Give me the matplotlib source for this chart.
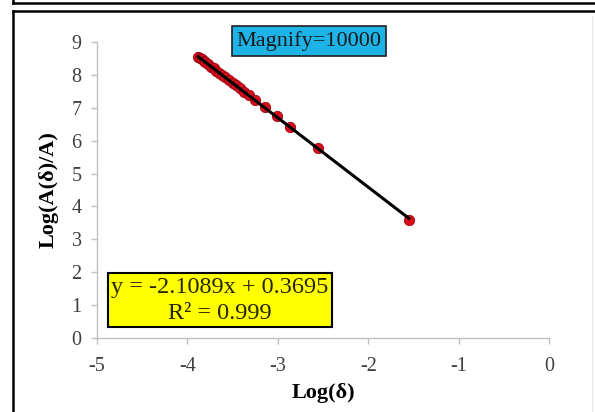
import numpy as np
import matplotlib.pyplot as plt
from matplotlib.lines import Line2D

#~~~~~~~~~~~~~~~~~~~~~~~~~~~~~~~~~~~~~~~~~~~~~~~~~~

# DATA

log_delta = [-3.88, -3.86, -3.84, -3.82, -3.80, -3.77, -3.74, -3.71, -3.68,
             -3.65, -3.62, -3.58, -3.54, -3.50, -3.46, -3.42, -3.37, -3.32,
             -3.25, -3.14, -3.01, -2.86, -2.55, -1.55]
log_ratio = [8.55, 8.50, 8.47, 8.43, 8.39, 8.32, 8.25, 8.20, 8.13,
             8.06, 8.01, 7.93, 7.84, 7.75, 7.68, 7.59, 7.49, 7.38,
             7.25, 7.03, 6.75, 6.43, 5.78, 3.60]

slope = -2.1089
intercept = 0.3695
r_squared = 0.999

x_ticks = [-5, -4, -3, -2, -1, 0]
y_ticks = [0, 1, 2, 3, 4, 5, 6, 7, 8, 9]

#~~~~~~~~~~~~~~~~~~~~~~~~~~~~~~~~~~~~~~~~~~~~~~~~~~

# FIGURE

plt.rcParams['font.family'] = ['Liberation Serif', 'DejaVu Serif']
plt.rcParams['axes.unicode_minus'] = False

figure = plt.figure(figsize = (5.95, 4.12), dpi = 100)
axis = figure.add_axes([97 / 595, 1 - 338 / 412, 452 / 595, 296 / 412])

# outer frames
figure.add_artist(Line2D([13 / 595, 1], [1 - 3 / 412] * 2, color = "k", lw = 1.8))
figure.add_artist(Line2D([13 / 595] * 2, [1, 1 - 3 / 412], color = "k", lw = 1.8))
figure.add_artist(Line2D([13 / 595, 1], [1 - 11 / 412] * 2, color = "k", lw = 1.8))
figure.add_artist(Line2D([13 / 595] * 2, [1 - 11 / 412, 0], color = "k", lw = 1.8))
figure.add_artist(Line2D([592 / 595] * 2, [1 - 16 / 412, 0], color = "#e6e6e6", lw = 0.8))

#~~~~~~~~~~~~~~~~~~~~~~~~~~~~~~~~~~~~~~~~~~~~~~~~~~

# AXIS SETUP

axis.set_xlim(-5, 0)
axis.set_ylim(0, 9)
axis.set_xticks(x_ticks)
axis.set_yticks(y_ticks)

for side in ["top", "right"]:
    axis.spines[side].set_visible(False)
for side in ["left", "bottom"]:
    axis.spines[side].set_color("#bfbfbf")
    axis.spines[side].set_linewidth(1)

axis.tick_params(axis = "both", colors = "#bfbfbf", labelcolor = "#404040",
                 labelsize = 14.5, length = 4, width = 1)
axis.tick_params(axis = "y", pad = 7)
axis.tick_params(axis = "x", pad = 10)

axis.set_xlabel("Log(δ)", fontsize = 16, fontweight = "bold", labelpad = 5)
axis.set_ylabel("Log(A(δ)/A)", fontsize = 16, fontweight = "bold", labelpad = 9)

#~~~~~~~~~~~~~~~~~~~~~~~~~~~~~~~~~~~~~~~~~~~~~~~~~~

# PLOT

axis.scatter(log_delta, log_ratio, s = 55, c = "#d8101c",
             edgecolors = "#9b0010", linewidths = 0.6, zorder = 2)

fit_x = np.array([min(log_delta), max(log_delta)])
axis.plot(fit_x, slope * fit_x + intercept, color = "k", lw = 2.2, zorder = 3)

#~~~~~~~~~~~~~~~~~~~~~~~~~~~~~~~~~~~~~~~~~~~~~~~~~~

# TEXT BOXES

axis.text(0.469, 1.003, "Magnify=10000", transform = axis.transAxes,
          ha = "center", va = "center", fontsize = 16, color = "#1a1a1a",
          bbox = dict(boxstyle = "square,pad=0.22", fc = "#1db3e6", ec = "#202020", lw = 1.2))

axis.text(0.272, 0.128,
          "y = %.4fx + %.4f\nR² = %.3f" % (slope, intercept, r_squared),
          transform = axis.transAxes, ha = "center", va = "center",
          fontsize = 17.5, color = "#262600", linespacing = 1.3,
          bbox = dict(boxstyle = "square,pad=0.15", fc = "#ffff00", ec = "#000000", lw = 1.5))

#~~~~~~~~~~~~~~~~~~~~~~~~~~~~~~~~~~~~~~~~~~~~~~~~~~

# SAVING

figure.savefig("out.png")
